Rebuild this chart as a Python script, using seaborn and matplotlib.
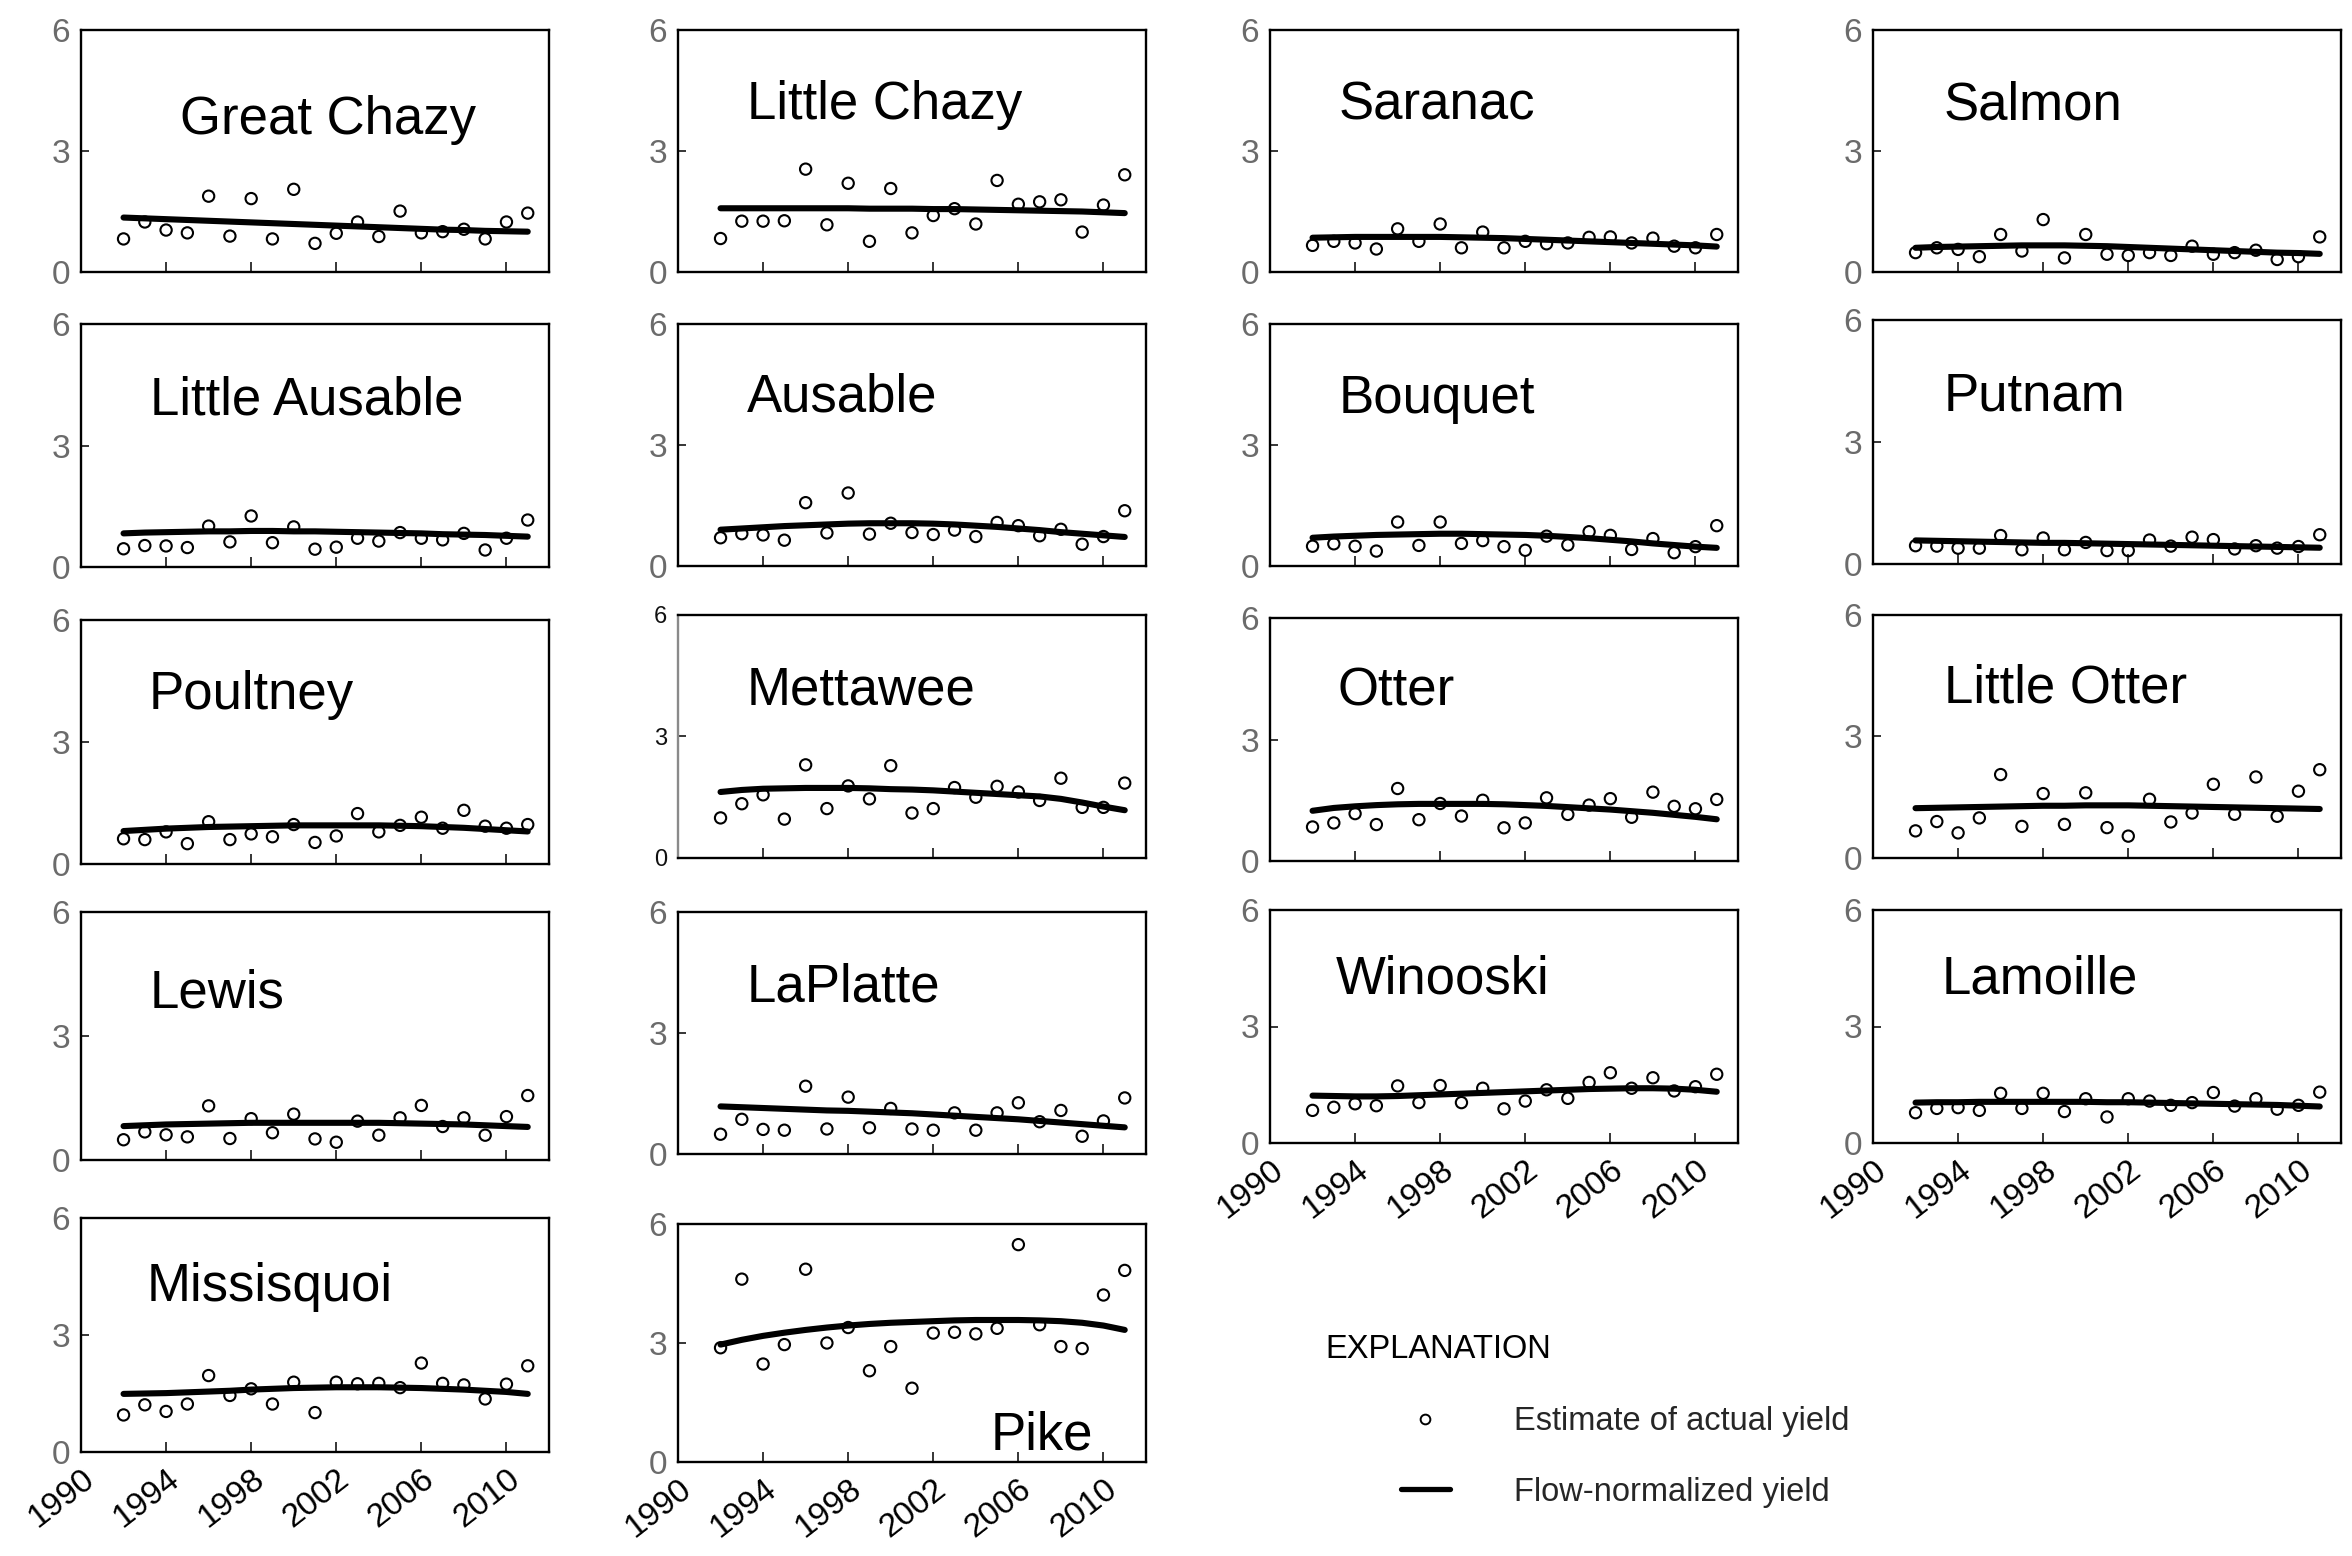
import matplotlib
matplotlib.use("Agg")
import matplotlib.pyplot as plt
import seaborn as sns
from matplotlib.lines import Line2D

# ---------------------------------------------------------------- data
years = list(range(1992, 2012))
x_ticks = [1990, 1994, 1998, 2002, 2006, 2010]
y_ticks = [0, 3, 6]

rivers = ["Great Chazy", "Little Chazy", "Saranac", "Salmon",
          "Little Ausable", "Ausable", "Bouquet", "Putnam",
          "Poultney", "Mettawee", "Otter", "Little Otter",
          "Lewis", "LaPlatte", "Winooski", "Lamoille",
          "Missisquoi", "Pike"]

# estimate of actual yield, 1992-2011
great_chazy_est = [0.82, 1.24, 1.04, 0.97, 1.88, 0.89, 1.82, 0.82, 2.05, 0.71,
                   0.96, 1.24, 0.88, 1.51, 0.97, 1.00, 1.06, 0.82, 1.24, 1.46]
little_chazy_est = [0.83, 1.26, 1.26, 1.27, 2.55, 1.17, 2.20, 0.76, 2.07, 0.97,
                    1.40, 1.57, 1.19, 2.27, 1.68, 1.74, 1.79, 0.99, 1.66, 2.41]
saranac_est = [0.66, 0.76, 0.72, 0.57, 1.07, 0.76, 1.19, 0.60, 0.99, 0.60,
               0.76, 0.70, 0.72, 0.86, 0.87, 0.72, 0.84, 0.64, 0.60, 0.93]
salmon_est = [0.48, 0.60, 0.56, 0.38, 0.93, 0.52, 1.30, 0.35, 0.93, 0.44,
              0.41, 0.48, 0.41, 0.64, 0.44, 0.48, 0.54, 0.31, 0.38, 0.87]
little_ausable_est = [0.45, 0.53, 0.52, 0.48, 1.01, 0.62, 1.26, 0.60, 0.99, 0.44,
                      0.49, 0.71, 0.64, 0.85, 0.71, 0.67, 0.83, 0.42, 0.71, 1.16]
ausable_est = [0.70, 0.80, 0.77, 0.64, 1.57, 0.82, 1.81, 0.79, 1.06, 0.83,
               0.78, 0.89, 0.73, 1.08, 1.00, 0.75, 0.91, 0.54, 0.73, 1.37]
bouquet_est = [0.49, 0.55, 0.49, 0.37, 1.09, 0.51, 1.09, 0.56, 0.63, 0.48,
               0.39, 0.74, 0.52, 0.85, 0.76, 0.41, 0.68, 0.33, 0.48, 1.00]
putnam_est = [0.45, 0.44, 0.39, 0.39, 0.70, 0.35, 0.64, 0.35, 0.53, 0.33,
              0.33, 0.59, 0.44, 0.66, 0.60, 0.37, 0.45, 0.39, 0.43, 0.72]
poultney_est = [0.62, 0.60, 0.79, 0.50, 1.04, 0.60, 0.74, 0.67, 0.97, 0.53,
                0.69, 1.24, 0.79, 0.95, 1.15, 0.88, 1.32, 0.93, 0.88, 0.97]
mettawee_est = [0.99, 1.34, 1.56, 0.96, 2.30, 1.22, 1.78, 1.46, 2.28, 1.11,
                1.22, 1.74, 1.50, 1.77, 1.63, 1.42, 1.97, 1.25, 1.25, 1.85]
otter_est = [0.84, 0.94, 1.17, 0.90, 1.79, 1.02, 1.42, 1.11, 1.50, 0.82,
             0.94, 1.56, 1.15, 1.38, 1.54, 1.08, 1.70, 1.35, 1.29, 1.52]
little_otter_est = [0.67, 0.90, 0.62, 0.99, 2.06, 0.78, 1.59, 0.83, 1.61, 0.75,
                    0.54, 1.45, 0.89, 1.11, 1.82, 1.08, 2.00, 1.03, 1.65, 2.18]
lewis_est = [0.49, 0.68, 0.61, 0.56, 1.31, 0.52, 1.00, 0.66, 1.11, 0.51,
             0.43, 0.94, 0.60, 1.02, 1.32, 0.81, 1.02, 0.60, 1.05, 1.56]
laplatte_est = [0.49, 0.86, 0.61, 0.59, 1.68, 0.62, 1.41, 0.65, 1.13, 0.62,
                0.59, 1.02, 0.59, 1.02, 1.27, 0.80, 1.08, 0.44, 0.82, 1.39]
winooski_est = [0.84, 0.92, 1.01, 0.96, 1.47, 1.04, 1.48, 1.04, 1.41, 0.88,
                1.08, 1.37, 1.15, 1.56, 1.81, 1.41, 1.68, 1.34, 1.45, 1.77]
lamoille_est = [0.78, 0.89, 0.91, 0.84, 1.28, 0.89, 1.28, 0.81, 1.14, 0.67,
                1.14, 1.08, 0.97, 1.04, 1.30, 0.95, 1.14, 0.87, 0.97, 1.31]
missisquoi_est = [0.95, 1.21, 1.04, 1.23, 1.96, 1.45, 1.62, 1.23, 1.79, 1.01,
                  1.79, 1.75, 1.76, 1.65, 2.28, 1.76, 1.72, 1.36, 1.74, 2.21]
pike_est = [2.88, 4.61, 2.47, 2.96, 4.86, 3.00, 3.39, 2.30, 2.91, 1.86,
            3.25, 3.27, 3.23, 3.37, 5.48, 3.46, 2.91, 2.86, 4.21, 4.83]

# flow-normalized yield, 1992-2011
great_chazy_fn = [1.35, 1.33, 1.31, 1.29, 1.27, 1.25, 1.23, 1.21, 1.19, 1.17,
                  1.15, 1.13, 1.11, 1.09, 1.07, 1.05, 1.04, 1.02, 1.01, 1.00]
little_chazy_fn = [1.58, 1.58, 1.58, 1.58, 1.58, 1.58, 1.58, 1.57, 1.57, 1.57,
                   1.56, 1.56, 1.55, 1.54, 1.53, 1.52, 1.51, 1.50, 1.48, 1.46]
saranac_fn = [0.85, 0.86, 0.87, 0.87, 0.87, 0.87, 0.87, 0.86, 0.85, 0.84,
              0.82, 0.80, 0.78, 0.76, 0.74, 0.72, 0.70, 0.68, 0.66, 0.63]
salmon_fn = [0.60, 0.62, 0.63, 0.64, 0.65, 0.66, 0.66, 0.66, 0.65, 0.64,
             0.62, 0.60, 0.58, 0.56, 0.54, 0.52, 0.50, 0.48, 0.47, 0.45]
little_ausable_fn = [0.83, 0.85, 0.86, 0.87, 0.88, 0.88, 0.89, 0.89, 0.88, 0.88,
                     0.87, 0.86, 0.85, 0.84, 0.83, 0.81, 0.80, 0.79, 0.77, 0.75]
ausable_fn = [0.90, 0.93, 0.96, 0.99, 1.01, 1.03, 1.05, 1.06, 1.06, 1.06,
              1.05, 1.03, 1.00, 0.97, 0.93, 0.89, 0.84, 0.80, 0.76, 0.72]
bouquet_fn = [0.70, 0.73, 0.75, 0.77, 0.78, 0.79, 0.80, 0.80, 0.79, 0.78,
              0.77, 0.75, 0.72, 0.69, 0.65, 0.61, 0.56, 0.52, 0.48, 0.45]
putnam_fn = [0.58, 0.57, 0.56, 0.55, 0.54, 0.53, 0.52, 0.52, 0.51, 0.50,
             0.49, 0.48, 0.47, 0.46, 0.45, 0.44, 0.43, 0.42, 0.41, 0.40]
poultney_fn = [0.81, 0.84, 0.87, 0.89, 0.91, 0.92, 0.93, 0.94, 0.95, 0.95,
               0.95, 0.95, 0.95, 0.94, 0.93, 0.91, 0.89, 0.86, 0.83, 0.80]
mettawee_fn = [1.63, 1.68, 1.71, 1.72, 1.73, 1.73, 1.73, 1.72, 1.70, 1.69,
               1.67, 1.64, 1.61, 1.58, 1.55, 1.52, 1.46, 1.37, 1.27, 1.18]
otter_fn = [1.24, 1.31, 1.35, 1.38, 1.40, 1.41, 1.41, 1.41, 1.41, 1.40,
            1.38, 1.36, 1.33, 1.30, 1.27, 1.23, 1.19, 1.14, 1.09, 1.03]
little_otter_fn = [1.23, 1.24, 1.25, 1.26, 1.27, 1.28, 1.29, 1.29, 1.30, 1.30,
                   1.30, 1.29, 1.28, 1.27, 1.26, 1.25, 1.24, 1.23, 1.22, 1.21]
lewis_fn = [0.82, 0.84, 0.86, 0.87, 0.88, 0.89, 0.90, 0.90, 0.90, 0.90,
            0.90, 0.90, 0.90, 0.89, 0.88, 0.87, 0.86, 0.84, 0.82, 0.80]
laplatte_fn = [1.18, 1.16, 1.14, 1.12, 1.10, 1.08, 1.07, 1.05, 1.03, 1.01,
               0.98, 0.95, 0.92, 0.89, 0.86, 0.82, 0.78, 0.74, 0.70, 0.66]
winooski_fn = [1.22, 1.21, 1.20, 1.20, 1.21, 1.23, 1.25, 1.27, 1.29, 1.31,
               1.33, 1.35, 1.37, 1.39, 1.40, 1.41, 1.41, 1.40, 1.37, 1.32]
lamoille_fn = [1.04, 1.05, 1.05, 1.06, 1.06, 1.06, 1.06, 1.06, 1.06, 1.05,
               1.05, 1.04, 1.03, 1.02, 1.01, 1.00, 0.99, 0.98, 0.96, 0.94]
missisquoi_fn = [1.49, 1.50, 1.51, 1.53, 1.55, 1.57, 1.60, 1.62, 1.64, 1.65,
                 1.66, 1.66, 1.66, 1.65, 1.64, 1.62, 1.60, 1.57, 1.54, 1.49]
pike_fn = [2.96, 3.08, 3.18, 3.26, 3.33, 3.39, 3.44, 3.48, 3.51, 3.53,
           3.55, 3.57, 3.58, 3.58, 3.58, 3.57, 3.55, 3.51, 3.44, 3.33]

estimates = [great_chazy_est, little_chazy_est, saranac_est, salmon_est,
             little_ausable_est, ausable_est, bouquet_est, putnam_est,
             poultney_est, mettawee_est, otter_est, little_otter_est,
             lewis_est, laplatte_est, winooski_est, lamoille_est,
             missisquoi_est, pike_est]
flow_normalized = [great_chazy_fn, little_chazy_fn, saranac_fn, salmon_fn,
                   little_ausable_fn, ausable_fn, bouquet_fn, putnam_fn,
                   poultney_fn, mettawee_fn, otter_fn, little_otter_fn,
                   lewis_fn, laplatte_fn, winooski_fn, lamoille_fn,
                   missisquoi_fn, pike_fn]

# ---------------------------------------------------------------- layout
W, H = 2352, 1556
col_left = [81, 678, 1270, 1873]     # frame left edge, px
frame_w = 468
# (top, bottom) of each frame in px
frame_rows = [(30, 272), (30, 272), (30, 272), (30, 272),
              (324, 567), (324, 566), (324, 566), (320, 564),
              (620, 864), (615, 858), (618, 861), (615, 858),
              (912, 1160), (912, 1154), (910, 1143), (910, 1143),
              (1218, 1452), (1224, 1462)]
# panel name position in axes fraction
title_pos = [(0.212, 0.627), (0.147, 0.689), (0.147, 0.689), (0.151, 0.689),
             (0.147, 0.685), (0.147, 0.696), (0.147, 0.689), (0.151, 0.687),
             (0.144, 0.693), (0.147, 0.691), (0.144, 0.698), (0.151, 0.698),
             (0.147, 0.673), (0.147, 0.689), (0.141, 0.703), (0.147, 0.703),
             (0.141, 0.705), (0.667, 0.113)]
with_year_labels = {"Winooski", "Lamoille", "Missisquoi", "Pike"}

sns.set_style("white")
plt.rcParams["font.family"] = ["Liberation Sans", "DejaVu Sans"]

fig = plt.figure(figsize=(W / 100, H / 100), dpi=100)

for i, name in enumerate(rivers):
    col = i % 4
    top, bottom = frame_rows[i]
    rect = [col_left[col] / W, 1 - bottom / H, frame_w / W, (bottom - top) / H]
    ax = fig.add_axes(rect)

    sns.lineplot(x=years, y=flow_normalized[i], ax=ax, color="black",
                 linewidth=4.4, solid_capstyle="round", zorder=2)
    sns.scatterplot(x=years, y=estimates[i], ax=ax, marker="o", s=66,
                    facecolor="none", edgecolor="black", linewidth=1.5,
                    zorder=3)

    ax.set_xlim(1990, 2012)
    ax.set_ylim(0, 6)
    ax.set_xticks(x_ticks)
    ax.set_yticks(y_ticks)
    ax.set_xlabel("")
    ax.set_ylabel("")

    for side in ax.spines.values():
        side.set_visible(True)
        side.set_color("black")
        side.set_linewidth(1.7)

    ylab_color = "#6b6b6b"
    ylab_size = 24
    if name == "Mettawee":
        ylab_color = "#111111"
        ylab_size = 17
        ax.spines["left"].set_color("#8a8a8a")

    ax.tick_params(axis="y", direction="in", length=6, width=1.3,
                   labelsize=ylab_size, labelcolor=ylab_color, pad=8,
                   left=True, right=False)
    ax.tick_params(axis="x", direction="in", length=7.5, width=1.3,
                   labelsize=24, labelcolor="black", pad=8,
                   bottom=True, top=False,
                   labelbottom=name in with_year_labels)
    if name in with_year_labels:
        for lab in ax.get_xticklabels():
            lab.set_rotation(38)
            lab.set_ha("right")
            lab.set_va("top")
            lab.set_rotation_mode("anchor")

    tx, ty = title_pos[i]
    ax.text(tx, ty, name, transform=ax.transAxes, fontsize=38,
            ha="left", va="center", color="black")

# ---------------------------------------------------------------- explanation
fig.text(1325 / W, 1 - 1349 / H, "EXPLANATION", fontsize=23.5,
         ha="left", va="center", color="black")
handles = [Line2D([], [], marker="o", linestyle="none", markersize=7,
                  markerfacecolor="none", markeredgecolor="black",
                  markeredgewidth=1.4),
           Line2D([], [], color="black", linewidth=3.8)]
fig.legend(handles, ["Estimate of actual yield", "Flow-normalized yield"],
           loc="center left", bbox_to_anchor=(1401 / W, 1 - 1457 / H),
           frameon=False, fontsize=23.5, handlelength=1.5, handletextpad=1.95,
           labelspacing=1.2, borderpad=0, borderaxespad=0)

fig.savefig("out.png", dpi=100)
